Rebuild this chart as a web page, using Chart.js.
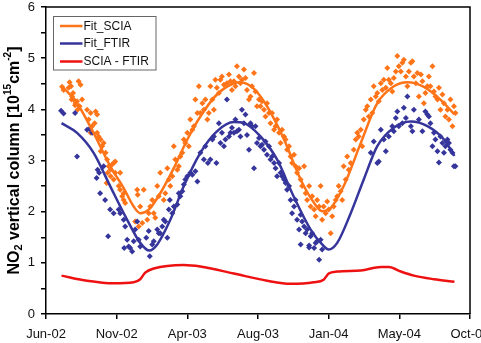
<!DOCTYPE html>
<html>
<head>
<meta charset="utf-8">
<script src="https://cdn.jsdelivr.net/npm/chart.js@4.4.1/dist/chart.umd.min.js"></script>
<style>
  html, body { margin: 0; padding: 0; background: #fff; }
  #wrap { width: 481px; height: 343px; }
</style>
</head>
<body>
<div id="wrap"><canvas id="c" width="481" height="343"></canvas></div>
<script>
// x values are days counted from the "Jun-02" tick; ticks every 141 days
const xTickLabels = ["Jun-02", "Nov-02", "Apr-03", "Aug-03", "Jan-04", "May-04", "Oct-04"];
const xTickStep = 141;
const yTicks = [0, 0.5, 1, 1.5, 2, 2.5, 3, 3.5, 4, 4.5, 5, 5.5, 6];

// SCIA measurements (orange points)
const sciaDays = [32,35,47,50,65,69,45,52,55,59,62,54,51,67,63,58,72,82,89,99,102,85,92,89,97,102,105,109,112,115,109,119,122,125,129,132,135,138,123,129,121,135,138,145,148,152,155,148,158,155,
 182,183,195,188,178,185,192,202,205,208,212,215,218,222,225,228,235,238,242,245,248,252,255,258,262,265,268,272,275,278,282,285,288,292,295,298,302,305,308,312,315,318,322,325,328,332,335,338,341,345,348,351,355,361,365,368,371,375,378,381,385,388,391,395,398,401,405,408,411,415,418,421,425,428,431,435,438,441,445,448,451,455,458,461,465,468,471,475,478,481,485,488,491,495,498,501,505,508,511,515,518,521,525,528,531,535,538,541,545,548,551,554,558,561,564,568,571,574,578,581,584,588,591,594,598,601,604,608,614,618,621,624,628,631,634,638,641,644,648,651,654,658,661,664,668,671,674,678,681,684,688,691,694,698,701,704,708,711,714,718,721,724,728,731,734,738,741,744,748,751,754,757,761,764,767,771,774,777,781,784,787,791,794,797,801,804,807,811,814,817];
const sciaVals = [4.44,4.38,4.53,4.45,4.55,4.48,4.42,4.25,4.19,4.12,4.16,4.32,4.19,4.06,3.99,4.08,4.19,3.99,3.93,3.96,3.90,3.80,3.67,3.54,3.73,3.54,3.47,3.41,3.28,3.34,3.18,3.15,3.02,2.89,2.82,2.92,2.95,2.98,2.76,2.69,2.56,2.63,2.76,2.50,2.43,2.30,2.23,2.76,2.17,2.36,
 2.43,2.33,2.43,2.10,1.81,1.71,1.78,1.84,1.97,2.10,2.23,1.97,1.88,2.50,2.30,2.76,2.23,2.36,2.85,2.63,2.50,2.69,3.28,3.02,2.82,2.89,3.08,3.15,3.41,3.34,3.54,3.28,3.80,3.60,3.67,4.19,3.93,4.45,3.93,4.12,3.99,4.19,3.80,3.93,4.45,4.19,3.99,4.58,4.42,4.32,4.58,4.64,4.48,4.51,4.68,4.55,4.38,4.55,4.45,4.84,4.64,4.51,4.58,4.78,4.61,4.38,4.19,4.25,4.45,4.71,4.35,4.06,4.19,4.06,4.16,3.99,3.86,4.12,3.93,3.73,3.93,3.60,3.67,3.80,3.54,3.34,3.60,3.47,3.41,3.21,3.28,3.08,2.95,3.11,2.89,2.76,2.85,2.63,2.50,2.89,2.36,2.23,2.50,2.10,2.30,2.04,1.91,2.23,2.10,2.50,1.84,2.10,1.97,2.20,2.04,1.58,1.91,2.10,2.23,2.30,2.50,2.40,2.23,2.89,2.63,3.08,2.82,2.95,3.21,3.41,3.54,3.47,3.60,3.28,3.80,3.99,4.06,3.86,4.19,3.93,4.45,4.25,4.32,4.16,4.51,4.38,4.58,4.42,4.81,4.58,4.51,4.35,4.61,4.74,5.04,4.84,4.74,4.91,4.97,4.64,4.45,4.74,4.91,4.94,4.64,4.51,4.71,4.25,4.68,4.55,4.12,4.32,4.45,4.64,4.45,4.84,4.35,4.25,4.19,4.42,3.99,4.29,4.12,3.86,3.99,3.80,4.19,3.67,4.06,3.93];

// FTIR measurements (blue points)
const ftirDays = [30,35,58,62,82,87,92,103,106,108,101,115,118,128,124,135,145,148,155,158,156,162,165,168,172,175,178,182,185,188,200,205,207,212,215,222,225,228,232,235,238,242,245,247,252,255,262,265,268,272,275,278,282,288,292,298,302,308,315,318,323,328,332,335,340,345,348,351,355,358,361,365,368,371,375,378,381,385,388,391,395,398,401,405,408,411,415,418,421,425,428,431,435,438,441,445,448,451,455,458,461,465,468,471,475,478,481,485,488,491,495,498,501,505,508,511,515,518,521,525,528,531,535,538,541,545,548,551,508,525,
 648,654,661,664,668,674,678,684,691,694,698,701,704,711,714,718,721,728,731,734,744,751,757,761,764,767,771,774,777,781,784,787,791,794,797,801,804,807,811,814,817];
const ftirVals = [3.97,3.92,3.93,3.08,3.60,3.62,3.54,2.82,2.76,2.36,2.66,2.89,2.23,2.04,1.52,1.97,2.04,1.97,1.84,1.71,1.29,1.45,1.32,1.29,1.22,1.42,1.65,1.81,1.45,1.32,1.49,1.62,1.13,1.36,1.42,1.65,1.58,1.58,1.71,1.84,1.81,1.49,2.04,2.23,1.97,2.10,2.14,2.36,2.30,2.40,2.53,2.63,2.69,2.76,2.72,2.79,2.59,3.15,3.02,3.28,2.95,3.02,3.41,3.47,2.95,3.73,3.34,3.54,3.28,3.41,4.19,3.47,3.54,3.64,3.54,3.80,3.57,3.60,3.47,3.99,3.73,3.90,3.50,3.21,3.73,3.67,2.85,3.67,3.34,3.44,3.28,3.31,3.21,3.37,3.11,3.28,3.02,3.08,2.95,2.85,2.69,2.95,2.76,2.69,2.63,2.56,2.43,2.50,2.23,1.97,2.10,2.23,1.84,1.65,1.94,1.81,1.71,1.58,1.65,1.34,1.52,1.58,1.29,1.39,1.42,1.06,1.45,1.26,1.36,1.30,
 3.15,3.37,2.95,2.98,3.60,3.41,3.18,3.47,3.67,3.57,3.83,3.96,3.67,3.73,4.03,3.83,4.25,3.67,3.57,3.99,3.80,3.57,3.96,3.90,3.86,3.73,3.28,3.54,3.41,3.18,2.96,3.47,3.34,3.15,3.28,3.41,3.34,3.21,3.15,2.89,2.89];

// Fitted curves
const fitSciaDays = [31,62,95,128,155,175,188,205,228,255,282,308,341,375,388,415,441,475,508,535,551,568,594,628,661,694,721,754,787,815];
const fitSciaVals = [4.46,4.12,3.54,2.89,2.46,2.10,1.97,2.04,2.36,2.85,3.41,3.86,4.29,4.51,4.53,4.40,4.06,3.41,2.63,2.17,2.01,2.07,2.50,3.34,4.12,4.45,4.53,4.44,4.19,3.90];
const fitFtirDays = [31,62,95,128,162,188,206,222,248,275,308,341,375,395,428,461,494,528,551,564,581,608,634,661,694,728,761,794,815];
const fitFtirVals = [3.73,3.54,3.15,2.50,1.84,1.39,1.24,1.36,1.84,2.50,3.15,3.57,3.75,3.73,3.47,3.02,2.30,1.65,1.36,1.26,1.39,1.97,2.63,3.28,3.64,3.76,3.67,3.41,3.09];
const diffDays = [31,82,135,175,188,198,215,275,308,375,441,488,534,554,564,581,628,668,684,708,734,774,815];
const diffVals = [0.75,0.65,0.60,0.62,0.68,0.81,0.89,0.96,0.93,0.79,0.65,0.59,0.62,0.67,0.79,0.83,0.85,0.92,0.92,0.83,0.75,0.68,0.63];

const ORANGE = '#FF7418';
const BLUE = '#35359B';
const RED = '#EE1111';
const FONT = '"Liberation Sans", Arial, sans-serif';

function pts(xs, ys) { return xs.map((x, i) => ({ x: x, y: ys[i] })); }

const frameAndLegend = {
  id: 'frameAndLegend',
  afterDraw(chart) {
    const ctx = chart.ctx;
    const a = chart.chartArea;
    ctx.save();
    // top and right frame lines
    ctx.strokeStyle = '#000';
    ctx.lineWidth = 1.5;
    ctx.beginPath();
    ctx.moveTo(a.left, a.top);
    ctx.lineTo(a.right, a.top);
    ctx.lineTo(a.right, a.bottom);
    ctx.stroke();

    // legend box
    ctx.fillStyle = '#fff';
    ctx.fillRect(53.5, 16.5, 102.5, 53.5);
    ctx.strokeStyle = '#666';
    ctx.lineWidth = 1;
    ctx.strokeRect(53.5, 16.5, 102.5, 53.5);
    const items = chart.data.datasets.filter(d => d.inLegend);
    const ys = [26, 43.5, 61.5];
    ctx.font = '12px ' + FONT;
    ctx.textBaseline = 'middle';
    ctx.textAlign = 'left';
    items.forEach((d, i) => {
      ctx.strokeStyle = d.borderColor;
      ctx.lineWidth = 2.5;
      ctx.beginPath();
      ctx.moveTo(60, ys[i]);
      ctx.lineTo(82.5, ys[i]);
      ctx.stroke();
      ctx.fillStyle = '#111';
      ctx.fillText(d.label, 83.5, ys[i] + 0.5);
    });

    // y-axis title with sub/superscripts
    const segs = [
      { t: 'NO', s: 16, dy: 0 },
      { t: '2', s: 11, dy: 4.5 },
      { t: ' vertical column [10', s: 16, dy: 0 },
      { t: '15', s: 10, dy: -6 },
      { t: 'cm', s: 16, dy: 0 },
      { t: '-2', s: 10, dy: -6 },
      { t: ']', s: 16, dy: 0 }
    ];
    let total = 0;
    segs.forEach(g => { ctx.font = 'bold ' + g.s + 'px ' + FONT; g.w = ctx.measureText(g.t).width; total += g.w; });
    ctx.translate(14, (a.top + a.bottom) / 2);
    ctx.rotate(-Math.PI / 2);
    ctx.fillStyle = '#000';
    ctx.textBaseline = 'middle';
    let x = -total / 2;
    segs.forEach(g => {
      ctx.font = 'bold ' + g.s + 'px ' + FONT;
      ctx.fillText(g.t, x, g.dy + 0.5);
      x += g.w;
    });
    ctx.restore();
  }
};

new Chart(document.getElementById('c'), {
  type: 'line',
  data: {
    datasets: [
      { label: 'Fit_SCIA', inLegend: true, data: pts(fitSciaDays, fitSciaVals), borderColor: ORANGE, borderWidth: 2.5, pointRadius: 0, cubicInterpolationMode: 'monotone', fill: false, order: 2 },
      { label: 'Fit_FTIR', inLegend: true, data: pts(fitFtirDays, fitFtirVals), borderColor: BLUE, borderWidth: 2.5, pointRadius: 0, cubicInterpolationMode: 'monotone', fill: false, order: 1 },
      { label: 'SCIA - FTIR', inLegend: true, data: pts(diffDays, diffVals), borderColor: RED, borderWidth: 2.5, pointRadius: 0, cubicInterpolationMode: 'monotone', fill: false, order: 0 },
      { label: 'SCIA', data: pts(sciaDays, sciaVals), showLine: false, pointStyle: 'rectRot', pointRadius: 3, pointBorderWidth: 0, backgroundColor: ORANGE, borderColor: ORANGE, order: 4 },
      { label: 'FTIR', data: pts(ftirDays, ftirVals), showLine: false, pointStyle: 'rectRot', pointRadius: 3, pointBorderWidth: 0, backgroundColor: BLUE, borderColor: BLUE, order: 3 }
    ]
  },
  options: {
    responsive: false,
    animation: false,
    events: [],
    layout: { padding: { left: 0, top: 7, right: 11, bottom: 0 } },
    plugins: { legend: { display: false }, tooltip: { enabled: false }, title: { display: false } },
    scales: {
      x: {
        type: 'linear',
        min: 0,
        max: xTickStep * (xTickLabels.length - 1),
        afterBuildTicks(scale) { scale.ticks = xTickLabels.map((_, i) => ({ value: i * xTickStep })); },
        afterFit(scale) { scale.height = 29; scale.paddingLeft = 0; scale.paddingRight = 0; },
        ticks: {
          autoSkip: false, maxRotation: 0, minRotation: 0, padding: 8,
          color: '#111', font: { family: FONT, size: 13 },
          callback: (v) => xTickLabels[Math.round(v / xTickStep)]
        },
        grid: { drawOnChartArea: false, drawTicks: true, tickLength: 5, color: '#000', lineWidth: 1.5 },
        border: { display: true, color: '#000', width: 1.5 }
      },
      y: {
        min: 0,
        max: 6,
        afterBuildTicks(scale) { scale.ticks = yTicks.map(v => ({ value: v })); },
        afterFit(scale) { scale.width = 46; scale.paddingTop = 0; scale.paddingBottom = 0; },
        ticks: {
          autoSkip: false, padding: 6,
          color: '#111', font: { family: FONT, size: 13 },
          callback: (v) => (Number.isInteger(v) ? String(v) : '')
        },
        grid: { drawOnChartArea: false, drawTicks: true, tickLength: 5, color: '#000', lineWidth: 1.5 },
        border: { display: true, color: '#000', width: 1.5 }
      }
    }
  },
  plugins: [frameAndLegend]
});
</script>
</body>
</html>
